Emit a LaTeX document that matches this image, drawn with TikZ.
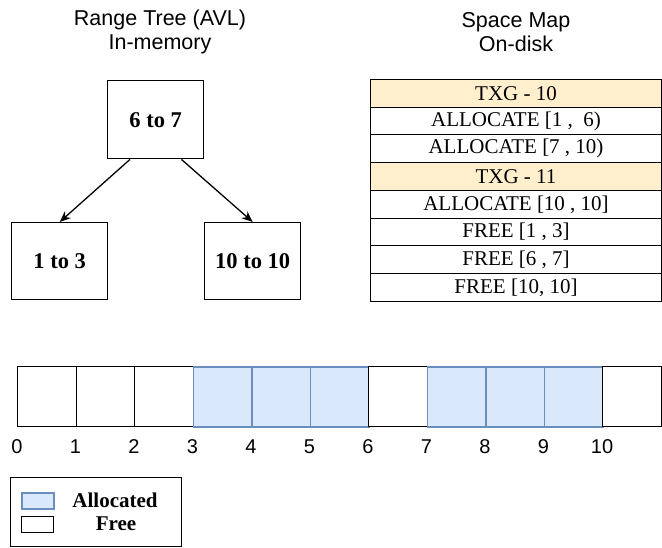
\documentclass[tikz,border=0pt]{standalone}
\usepackage{fontspec}
\setmainfont{Liberation Serif}
\newfontfamily\helv{Liberation Sans}
\usetikzlibrary{arrows.meta}
\definecolor{allocfill}{HTML}{DAE8FC}
\definecolor{allocdraw}{HTML}{6C8EBF}
\definecolor{txgfill}{HTML}{FFEFCC}
\tikzset{
  treebox/.style={draw, line width=1.4pt, minimum width=96pt, minimum height=77pt, anchor=north west, inner sep=0pt, font=\bfseries\fontsize{22.5}{26}\selectfont},
  treearrow/.style={line width=1.3pt, -{Stealth[length=11pt,width=9pt]}},
  titletext/.style={align=center, font=\helv\fontsize{21.5}{24}\selectfont},
  maprow/.style={draw, line width=1pt, minimum width=291pt, minimum height=27.75pt, anchor=north west, inner sep=0pt, font=\fontsize{21}{24}\selectfont},
  txgrow/.style={maprow, fill=txgfill},
  freecell/.style={draw, line width=1.4pt, fill=white, minimum width=58.5pt, minimum height=60pt, anchor=north west, inner sep=0pt},
  alloccell/.style={freecell, draw=allocdraw, fill=allocfill, line width=1.6pt},
  ticklabel/.style={font=\helv\fontsize{20}{22}\selectfont, inner sep=0pt},
  legendtext/.style={font=\bfseries\fontsize{21}{24}\selectfont, inner sep=0pt}
}
\begin{document}
\begin{tikzpicture}[x=1pt,y=-1pt]
\useasboundingbox (0,0) rectangle (662,548);
% titles
\node[titletext] (t1) at (160,32) {Range Tree (AVL)\\In-memory};
\node[titletext] (t2) at (516,32) {Space Map\\On-disk};
% tree
\node[treebox, minimum height=78pt] (root) at (107,80) {6 to 7};
\node[treebox] (left) at (11,222) {1 to 3};
\node[treebox] (right) at (204,222) {10 to 10};
\draw[treearrow] ([xshift=23pt]root.south west) -- (left.north);
\draw[treearrow] ([xshift=-23pt]root.south east) -- (right.north);
% space map table
\node[txgrow] (r1) at (370,79) {TXG - 10};
\node[maprow] (r2) at (370,106.75) {ALLOCATE [1 ,\ \ 6)};
\node[maprow] (r3) at (370,134.5) {ALLOCATE [7 , 10)};
\node[txgrow] (r4) at (370,162.25) {TXG - 11};
\node[maprow] (r5) at (370,190) {ALLOCATE [10 , 10]};
\node[maprow] (r6) at (370,217.75) {FREE [1 , 3]};
\node[maprow] (r7) at (370,245.5) {FREE [6 , 7]};
\node[maprow] (r8) at (370,273.25) {FREE [10, 10]};
% strip
\foreach \i/\s in {0/freecell,1/freecell,2/freecell,3/alloccell,4/alloccell,5/alloccell,6/freecell,7/alloccell,8/alloccell,9/alloccell,10/freecell}{
  \node[\s] (c\i) at ({17+58.5*\i},366) {};
  \node[ticklabel] (l\i) at ([yshift=-19.5pt]c\i.south west) {\i};
}
% legend
\node[draw, line width=1.4pt, minimum width=171pt, minimum height=69pt, anchor=north west, inner sep=0pt] (leg) at (10,477) {};
\node[draw=allocdraw, fill=allocfill, line width=1.6pt, minimum width=32pt, minimum height=16pt, anchor=north west, inner sep=0pt] (sa) at (21,492) {};
\node[draw, fill=white, line width=1.4pt, minimum width=32pt, minimum height=16pt, anchor=north west, inner sep=0pt] (sf) at (21,516) {};
\node[legendtext] (la) at (115,500) {Allocated};
\node[legendtext] (lf) at (116,524) {Free};
\end{tikzpicture}
\end{document}
